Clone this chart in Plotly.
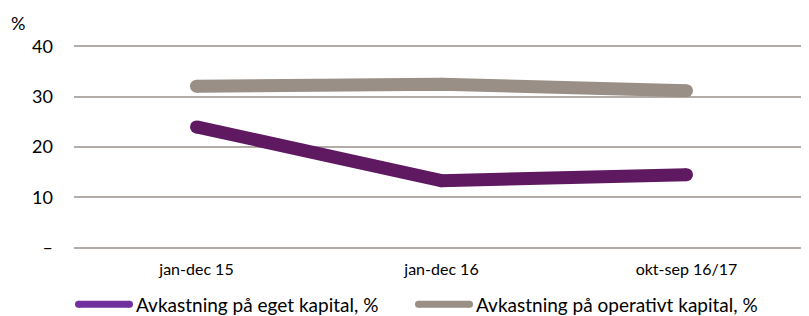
import plotly.graph_objects as go

categories = ["jan-dec 15", "jan-dec 16", "okt-sep 16/17"]
eget_kapital = [24.0, 13.3, 14.5]
operativt_kapital = [32.1, 32.5, 31.2]
y_tickvals = [0, 10, 20, 30, 40]
y_ticktext = ["–", "10", "20", "30", "40"]
series_names = ["Avkastning på eget kapital, %", "Avkastning på operativt kapital, %"]

PURPLE = "#5e1961"
PURPLE_LEG = "#7030a0"
GREY = "#998f86"
FONT = "Lato"

OFF = 8  # page body margin offset
SW, SH = 809, 316  # screen size
W, H = SW - OFF, SH - OFF
PAD = 1.5  # px padding so edge gridlines are drawn
S_LEFT, S_RIGHT, S_TOP, S_BOT = 74, 809, 46 - PAD, 248 + PAD
L = S_LEFT - OFF
R = SW - S_RIGHT
T = S_TOP - OFF
B = SH - S_BOT
PW, PH = W - L - R, H - T - B
YPAD = 40 * PAD / (202.0)


def px(x):
    return (x - S_LEFT) / PW


def py(y):
    return (S_BOT - y) / PH


fig = go.Figure()
fig.add_trace(go.Scatter(x=categories, y=operativt_kapital, mode="lines+markers",
                         line=dict(color=GREY, width=13), marker=dict(color=GREY, size=13),
                         cliponaxis=False, showlegend=False, name=series_names[1]))
fig.add_trace(go.Scatter(x=categories, y=eget_kapital, mode="lines+markers",
                         line=dict(color=PURPLE, width=13), marker=dict(color=PURPLE, size=13),
                         cliponaxis=False, showlegend=False, name=series_names[0]))

shapes = []
annotations = []
legend_items = [(75, 133, PURPLE_LEG, series_names[0]), (415, 473, GREY, series_names[1])]
ly = 305
for x0, x1, col, name in legend_items:
    shapes.append(dict(type="line", xref="paper", yref="paper", x0=px(x0 + 3.5), x1=px(x1 - 3.5),
                       y0=py(ly), y1=py(ly), line=dict(color=col, width=7)))
    for xc in (x0 + 3.5, x1 - 3.5):
        shapes.append(dict(type="circle", xref="paper", yref="paper", xsizemode="pixel", ysizemode="pixel",
                           xanchor=px(xc), yanchor=py(ly), x0=-3.5, x1=3.5, y0=-3.5, y1=3.5,
                           fillcolor=col, line=dict(width=0)))
    annotations.append(dict(text=name, xref="paper", yref="paper", x=px(x1 + 1), y=py(ly),
                            xanchor="left", yanchor="middle", showarrow=False,
                            font=dict(size=19, color="#000000", family=FONT)))

annotations.append(dict(text="%", xref="paper", yref="paper", x=px(9), y=py(22),
                        xanchor="left", yanchor="middle", showarrow=False,
                        font=dict(size=18, color="#000000", family=FONT)))

fig.update_layout(
    width=W, height=H,
    margin=dict(l=L, r=R, t=T, b=B, pad=0),
    paper_bgcolor="white", plot_bgcolor="white",
    font=dict(family=FONT, color="#000000"),
    showlegend=False,
    shapes=shapes, annotations=annotations,
    xaxis=dict(type="category", range=[-0.5, 2.5], showgrid=False, zeroline=False, showline=False,
               tickfont=dict(size=16, family=FONT), ticks="", ticklabelstandoff=9),
    yaxis=dict(range=[-YPAD, 40 + YPAD], tickvals=y_tickvals, ticktext=y_ticktext, showgrid=True,
               gridcolor="#b3aba5", gridwidth=1.5, zeroline=False, showline=False,
               tickfont=dict(size=18, family=FONT), ticks="", ticklabelstandoff=20),
)

fig.write_html("out.html")
